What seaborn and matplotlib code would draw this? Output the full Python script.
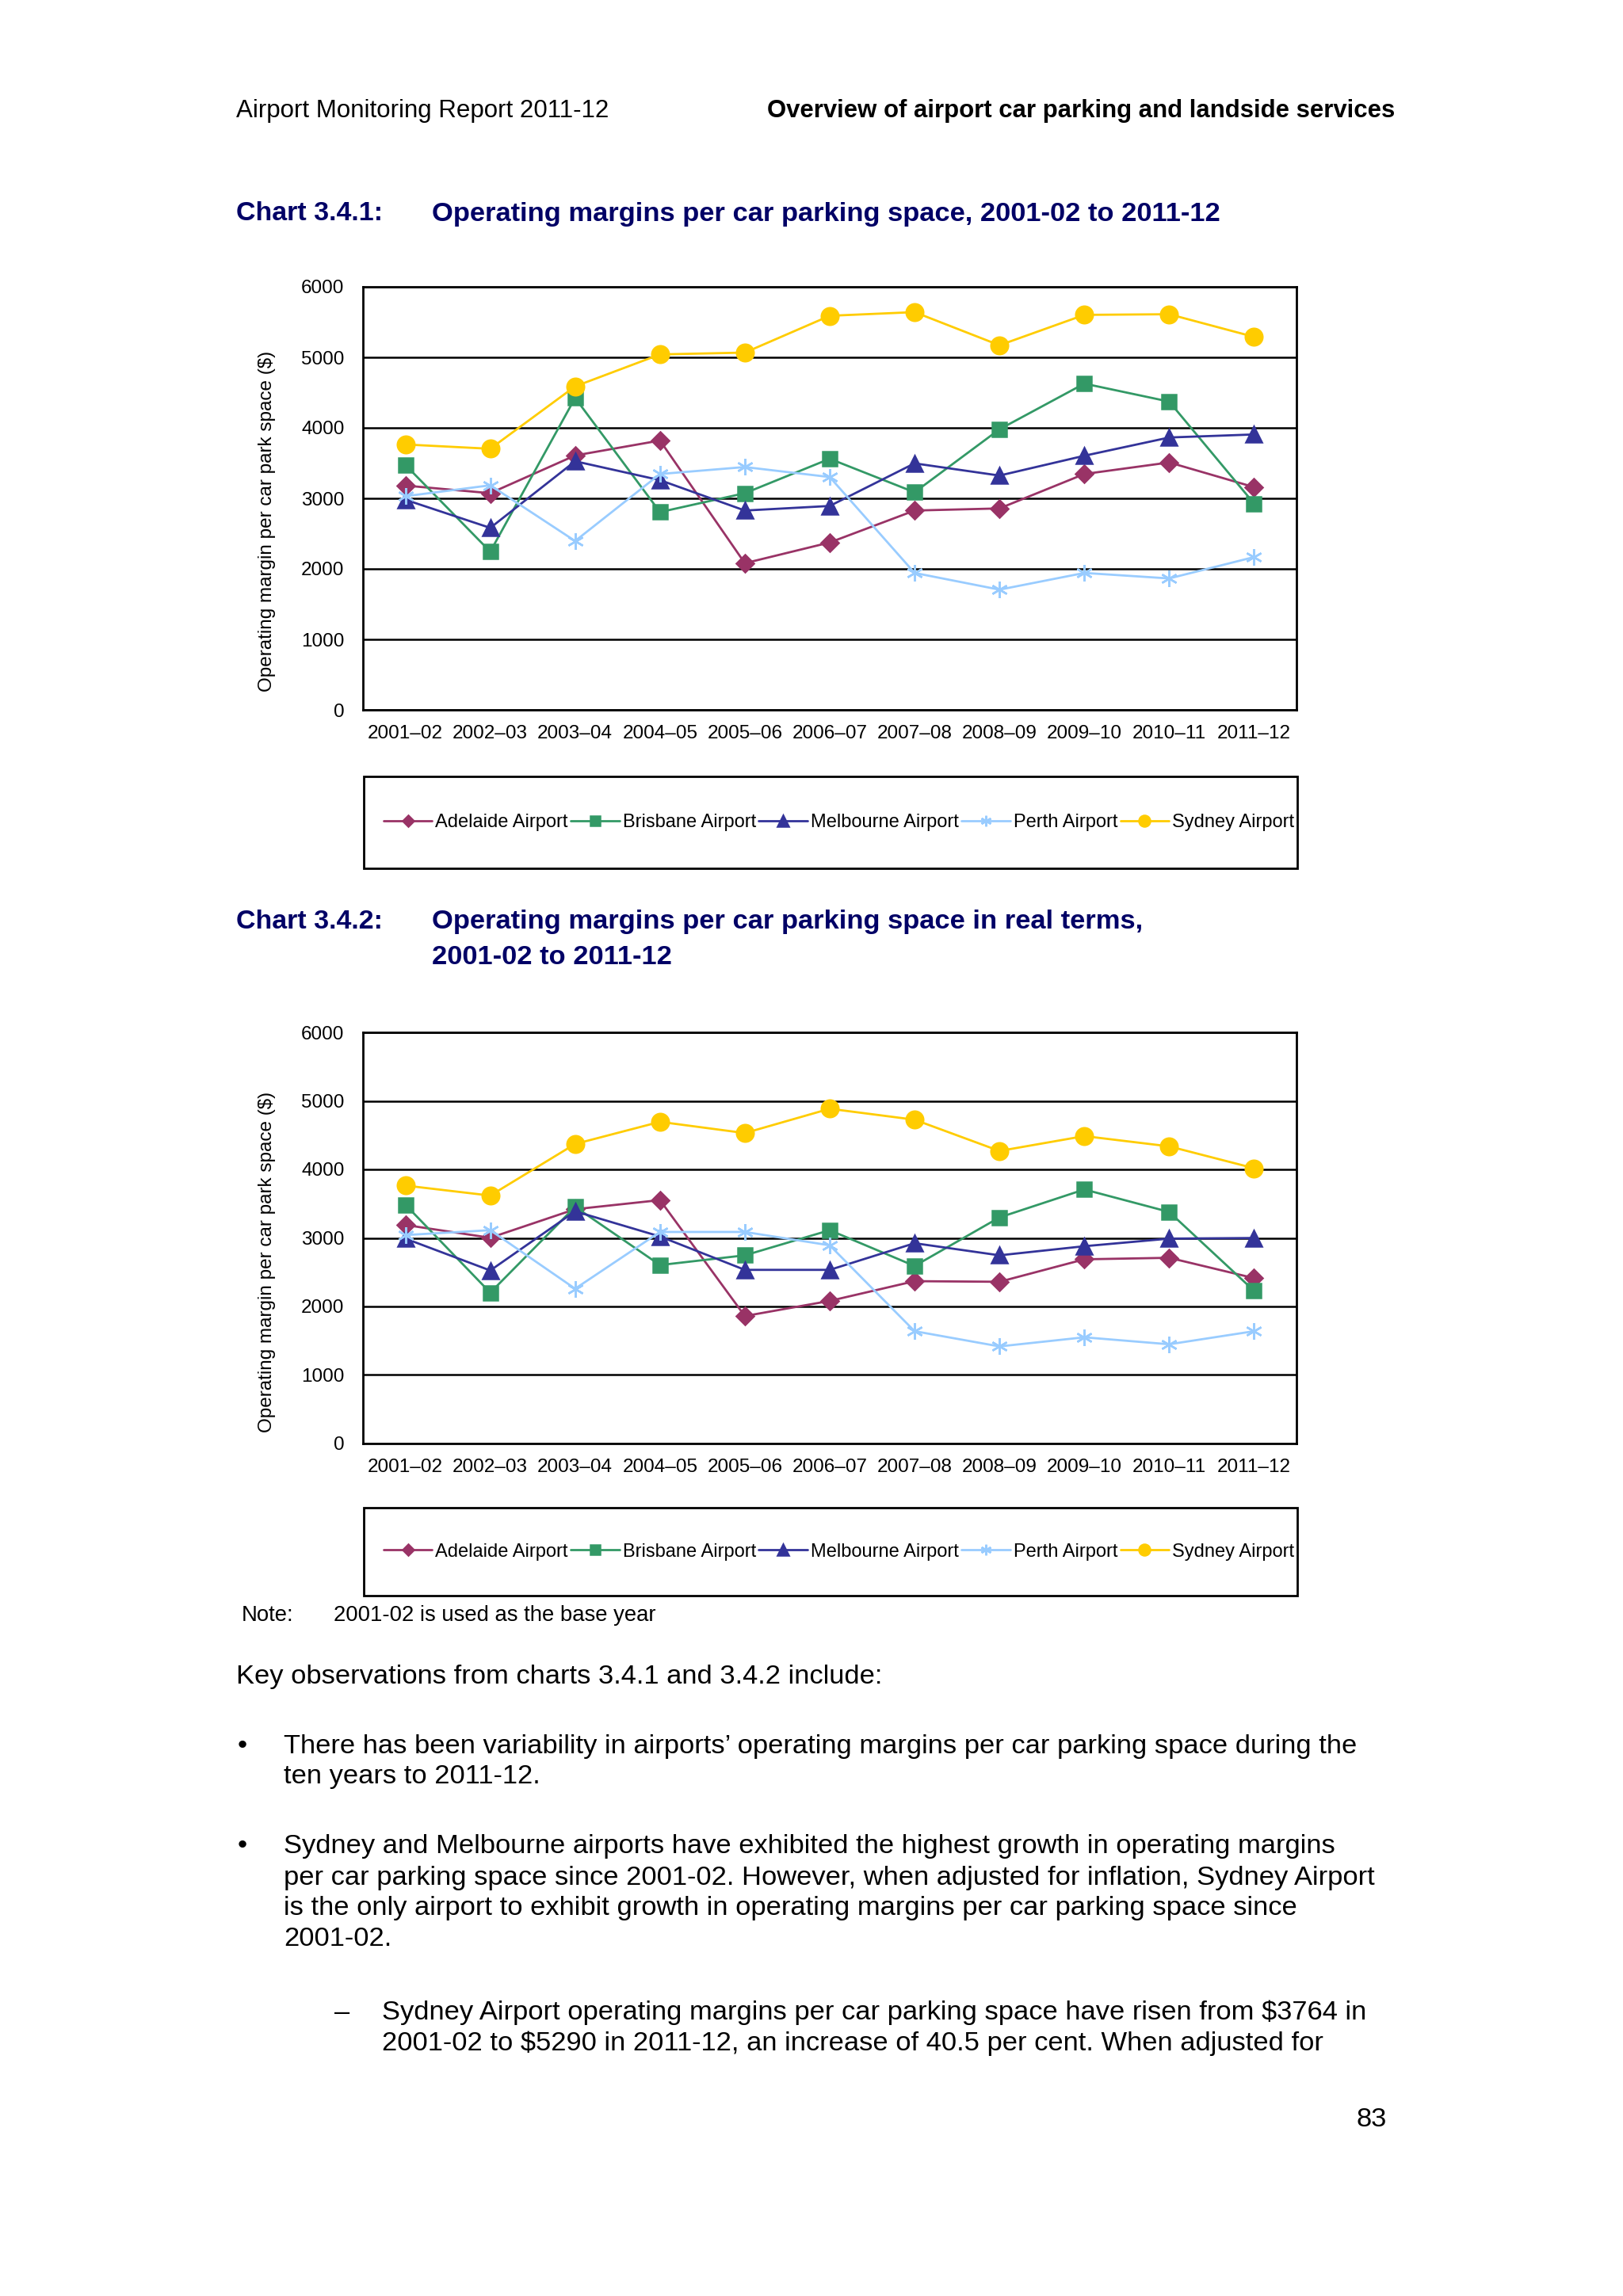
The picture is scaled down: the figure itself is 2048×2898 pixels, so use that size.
import numpy as np
import pandas as pd
import matplotlib.pyplot as plt
import seaborn as sns
from matplotlib.patches import Rectangle

# Données
years = ['2001–02', '2002–03', '2003–04', '2004–05', '2005–06', '2006–07',
         '2007–08', '2008–09', '2009–10', '2010–11', '2011–12']
airports = ['Adelaide Airport', 'Brisbane Airport', 'Melbourne Airport', 'Perth Airport', 'Sydney Airport']

# Chart 3.4.1 (nominal)
adelaide_nom = [3181, 3073, 3608, 3820, 2080, 2374, 2827, 2857, 3345, 3509, 3159]
brisbane_nom = [3474, 2244, 4424, 2805, 3073, 3561, 3086, 3979, 4627, 4372, 2926]
melbourne_nom = [2980, 2581, 3526, 3258, 2827, 2892, 3496, 3323, 3604, 3863, 3906]
perth_nom = [3030, 3185, 2395, 3345, 3444, 3302, 1942, 1705, 1942, 1864, 2167]
sydney_nom = [3764, 3703, 4588, 5041, 5067, 5589, 5641, 5171, 5602, 5611, 5290]

# Chart 3.4.2 (real terms)
adelaide_real = [3189, 3002, 3419, 3552, 1860, 2081, 2369, 2360, 2688, 2710, 2413]
brisbane_real = [3485, 2201, 3454, 2604, 2746, 3113, 2591, 3299, 3707, 3379, 2228]
melbourne_real = [2990, 2525, 3388, 3021, 2534, 2534, 2923, 2746, 2879, 2990, 2999]
perth_real = [3042, 3113, 2259, 3087, 3087, 2892, 1639, 1417, 1550, 1448, 1639]
sydney_real = [3764, 3618, 4371, 4694, 4530, 4885, 4725, 4269, 4486, 4336, 4017]

colors = {'Adelaide Airport': '#993366', 'Brisbane Airport': '#339966',
          'Melbourne Airport': '#333399', 'Perth Airport': '#99CCFF',
          'Sydney Airport': '#FFCC00'}
markers = {'Adelaide Airport': 'D', 'Brisbane Airport': 's',
           'Melbourne Airport': '^', 'Perth Airport': (6, 2, 0),
           'Sydney Airport': 'o'}
msizes = {'Adelaide Airport': 11.5, 'Brisbane Airport': 13.5,
          'Melbourne Airport': 14.5, 'Perth Airport': 15, 'Sydney Airport': 15.5}

sns.set_style('white')
plt.rcParams['font.family'] = ['Liberation Sans', 'DejaVu Sans']
plt.rcParams['text.color'] = 'black'
plt.rcParams['axes.labelcolor'] = 'black'
plt.rcParams['xtick.color'] = 'black'
plt.rcParams['ytick.color'] = 'black'

W, H = 2048, 2898
fig = plt.figure(figsize=(W / 100, H / 100), dpi=100)
navy = '#000066'


def fx(x):
    return x / W


def fy(y):
    return 1 - y / H


def make_df(series):
    rows = []
    for name, vals in zip(airports, series):
        for i, v in enumerate(vals):
            rows.append({'airport': name, 'pos': i, 'year': years[i], 'value': v})
    return pd.DataFrame(rows)


def draw_chart(top, bottom, series, label_y):
    ax = fig.add_axes([fx(458), fy(bottom), fx(1636) - fx(458), (bottom - top) / H])
    df = make_df(series)
    for name in airports:
        sub = df[df['airport'] == name]
        sns.lineplot(data=sub, x='pos', y='value', ax=ax, color=colors[name],
                     marker=markers[name], markersize=msizes[name], linewidth=2,
                     markeredgecolor=colors[name], markeredgewidth=1.8,
                     label=name, legend=False)
    ax.set_xlim(-0.5, len(years) - 0.5)
    ax.set_ylim(0, 6000)
    ax.set_yticks(range(0, 6001, 1000))
    ax.yaxis.grid(True, color='black', linewidth=1.8)
    ax.xaxis.grid(False)
    ax.set_xticks(np.arange(-0.5, len(years), 1))
    ax.set_xticklabels([])
    ax.set_xticks(range(len(years)), minor=True)
    ax.set_xticklabels(years, minor=True, fontsize=17.5)
    ax.tick_params(axis='x', which='major', direction='in', length=7, width=1.5, color='black')
    ax.tick_params(axis='x', which='minor', length=0, pad=14)
    ax.tick_params(axis='y', length=0, labelsize=17.5, pad=17)
    for s in ax.spines.values():
        s.set_color('black')
        s.set_linewidth(2)
    ax.set_xlabel('')
    ax.set_ylabel('Operating margin per car park space ($)', fontsize=17.5)
    ax.yaxis.set_label_coords((348 - 458) / 1178, label_y)
    return ax


def draw_legend(ax, top, bottom):
    fig.patches.append(Rectangle((fx(459), fy(bottom)), fx(1637) - fx(459), (bottom - top) / H,
                                 transform=fig.transFigure, fill=False, edgecolor='black',
                                 linewidth=2))
    handles, labels = ax.get_legend_handles_labels()
    fig.legend(handles, labels, loc='center left', ncol=5,
               bbox_to_anchor=(fx(472), fy((top + bottom) / 2)), frameon=False,
               fontsize=17, markerscale=0.65, handlelength=2.6, handletextpad=0.17,
               columnspacing=0.15, borderpad=0)


# En-tête de page
fig.text(fx(298), fy(140), 'Airport Monitoring Report 2011-12', fontsize=22.5, va='center')
fig.text(fx(1760), fy(140), 'Overview of airport car parking and landside services',
         fontsize=22.4, fontweight='bold', va='center', ha='right')

# Chart 3.4.1
fig.text(fx(298), fy(270), 'Chart 3.4.1:', fontsize=24.5, fontweight='bold', color=navy, va='center')
fig.text(fx(545), fy(270), 'Operating margins per car parking space, 2001-02 to 2011-12',
         fontsize=24.8, fontweight='bold', color=navy, va='center')
ax1 = draw_chart(362, 896, [adelaide_nom, brisbane_nom, melbourne_nom, perth_nom, sydney_nom], 0.446)
draw_legend(ax1, 980, 1096)

# Chart 3.4.2
fig.text(fx(298), fy(1164), 'Chart 3.4.2:', fontsize=24.5, fontweight='bold', color=navy, va='center')
fig.text(fx(545), fy(1164), 'Operating margins per car parking space in real terms,',
         fontsize=24.8, fontweight='bold', color=navy, va='center')
fig.text(fx(545), fy(1209), '2001-02 to 2011-12',
         fontsize=24.8, fontweight='bold', color=navy, va='center')
ax2 = draw_chart(1303, 1822, [adelaide_real, brisbane_real, melbourne_real, perth_real, sydney_real], 0.441)
draw_legend(ax2, 1903, 2014)

# Note et texte
fig.text(fx(305), fy(2039), 'Note:', fontsize=19.8, va='center')
fig.text(fx(421), fy(2039), '2001-02 is used as the base year', fontsize=19.8, va='center')

fig.text(fx(298), fy(2117), 'Key observations from charts 3.4.1 and 3.4.2 include:', fontsize=24.8, va='center')

fig.text(fx(300), fy(2204), '•', fontsize=24.8, va='center')
para1 = ['There has been variability in airports’ operating margins per car parking space during the',
         'ten years to 2011-12.']
for i, line in enumerate(para1):
    fig.text(fx(358), fy(2204 + 39 * i), line, fontsize=24.8, va='center')

fig.text(fx(300), fy(2331), '•', fontsize=24.8, va='center')
para2 = ['Sydney and Melbourne airports have exhibited the highest growth in operating margins',
         'per car parking space since 2001-02. However, when adjusted for inflation, Sydney Airport',
         'is the only airport to exhibit growth in operating margins per car parking space since',
         '2001-02.']
for i, line in enumerate(para2):
    fig.text(fx(358), fy(2331 + 39 * i), line, fontsize=24.8, va='center')

fig.text(fx(422), fy(2540), '–', fontsize=24.8, va='center')
para3 = ['Sydney Airport operating margins per car parking space have risen from $3764 in',
         '2001-02 to $5290 in 2011-12, an increase of 40.5 per cent. When adjusted for']
for i, line in enumerate(para3):
    fig.text(fx(482), fy(2540 + 39 * i), line, fontsize=24.8, va='center')

fig.text(fx(1750), fy(2675), '83', fontsize=24.8, va='center', ha='right')

plt.savefig('out.png', dpi=100)
